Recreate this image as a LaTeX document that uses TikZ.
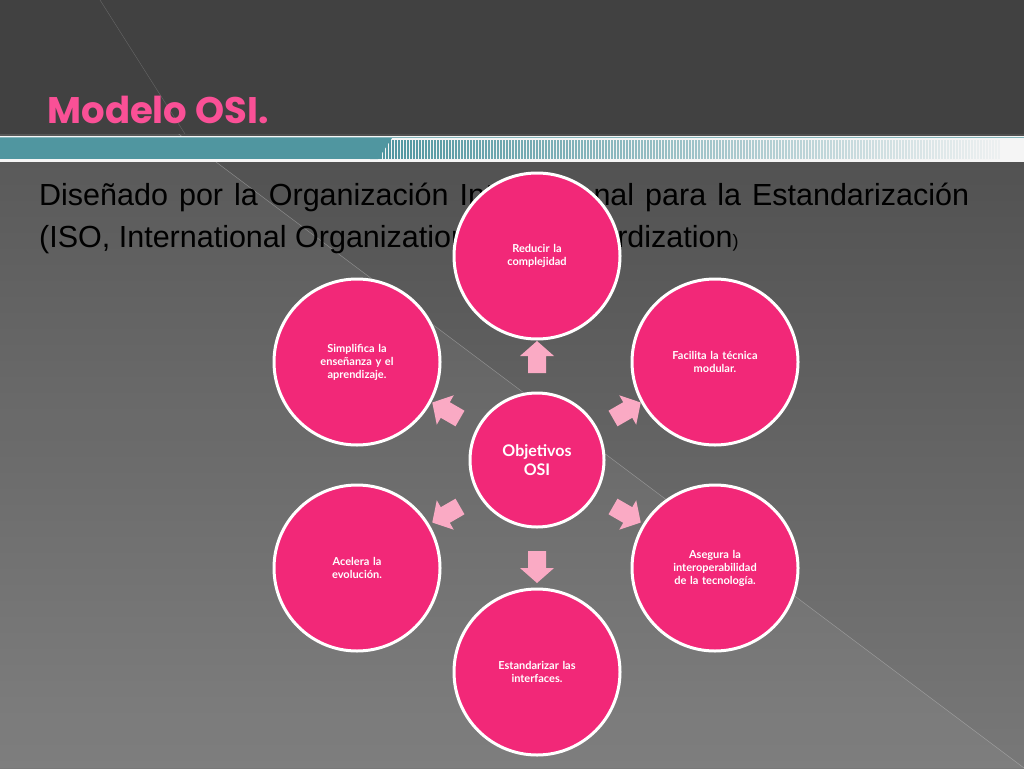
\documentclass[tikz,border=0pt]{standalone}
\usepackage{fontspec}
\setmainfont{Liberation Sans}
\newfontfamily\lato{Lato}
\newfontfamily\pop{Poppins}
\usetikzlibrary{calc}
\definecolor{bgA}{RGB}{72,72,72}
\definecolor{bgB}{RGB}{120,120,120}
\definecolor{pinkc}{RGB}{242,40,120}
\definecolor{arrc}{RGB}{250,170,196}
\definecolor{titlec}{RGB}{250,80,150}
\definecolor{tealc}{RGB}{80,150,160}
\tikzset{
  circ/.style={circle,fill=pinkc,draw=white,line width=3pt,minimum size=166pt,inner sep=0pt,
    text=white,font=\lato\bfseries\fontsize{11}{13}\selectfont,align=center,text width=120pt},
  ctr/.style={circ,minimum size=134pt,font=\lato\bfseries\fontsize{16}{19}\selectfont,text width=100pt},
  barr/.style={fill=arrc}
}
\newcommand{\blockarrow}[2]{\begin{scope}[shift={(#1)},rotate=#2]
  \fill[barr] (-15,-9) -- (2,-9) -- (2,-17) -- (17,0) -- (2,17) -- (2,9) -- (-15,9) -- cycle;
\end{scope}}
\begin{document}
\begin{tikzpicture}[x=1pt,y=-1pt]
\useasboundingbox (0,0) rectangle (1024,768);
\shade[top color=bgA,bottom color=bgB] (0,0) rectangle (1024,768);
\fill[white,opacity=0.05] (0,0) -- (1024,768) -- (0,768) -- cycle;
\draw[white!60!gray,opacity=0.5] (0,0) -- (1024,768);
\fill[bgA!90!black] (0,0) rectangle (1024,134);
\draw[gray,opacity=0.6] (100,0) -- (185,134);
\node[anchor=west,text=titlec,font=\pop\bfseries\fontsize{37}{40}\selectfont] (title) at (44,110) {Modelo OSI.};
\fill[white!92!gray] (0,136) rectangle (1024,162);
\fill[tealc] (0,138) rectangle (382,159);
\fill[tealc] (382,138) -- (392,138) -- (378,159) -- (370,159) -- cycle;
\foreach \i in {0,...,205} {
  \pgfmathsetmacro{\op}{max(0,1-\i/215)}
  \draw[tealc,line width=1.2pt,opacity=\op] (384+\i*3,140) -- (384+\i*3,159);
}
\draw[tealc!70,line width=1pt] (0,137) -- (1024,137);
\node[anchor=north west,text width=930pt,align=justify,inner sep=0pt,font=\fontsize{30.5}{42}\selectfont] (body) at (39,183)
 {Diseñado por la Organización Internacional para la Estandarización (ISO, International Organization for Standardization{\fontsize{18}{20}\selectfont)}};
\node[ctr] (c) at (537,460) {Objetivos\\OSI};
\node[circ] (n1) at (537,256) {Reducir la\\complejidad};
\node[circ] (n2) at (715,362) {Facilita la técnica\\modular.};
\node[circ] (n3) at (715,568) {Asegura la\\interoperabilidad\\de la tecnología.};
\node[circ] (n4) at (537,672) {Estandarizar las\\interfaces.};
\node[circ] (n5) at (357,568) {Acelera la\\evolución.};
\node[circ] (n6) at (357,362) {Simplifica la\\enseñanza y el\\aprendizaje.};
\coordinate (a1) at ($(c)!0.5!(n1)$);
\coordinate (a2) at ($(c)!0.5!(n2)$);
\coordinate (a3) at ($(c)!0.5!(n3)$);
\coordinate (a4) at ($(c)!0.5!(n4)$);
\coordinate (a5) at ($(c)!0.5!(n5)$);
\coordinate (a6) at ($(c)!0.5!(n6)$);
\blockarrow{a1}{90}
\blockarrow{a2}{30}
\blockarrow{a3}{-30}
\blockarrow{a4}{-90}
\blockarrow{a5}{-150}
\blockarrow{a6}{150}
\end{tikzpicture}
\end{document}
